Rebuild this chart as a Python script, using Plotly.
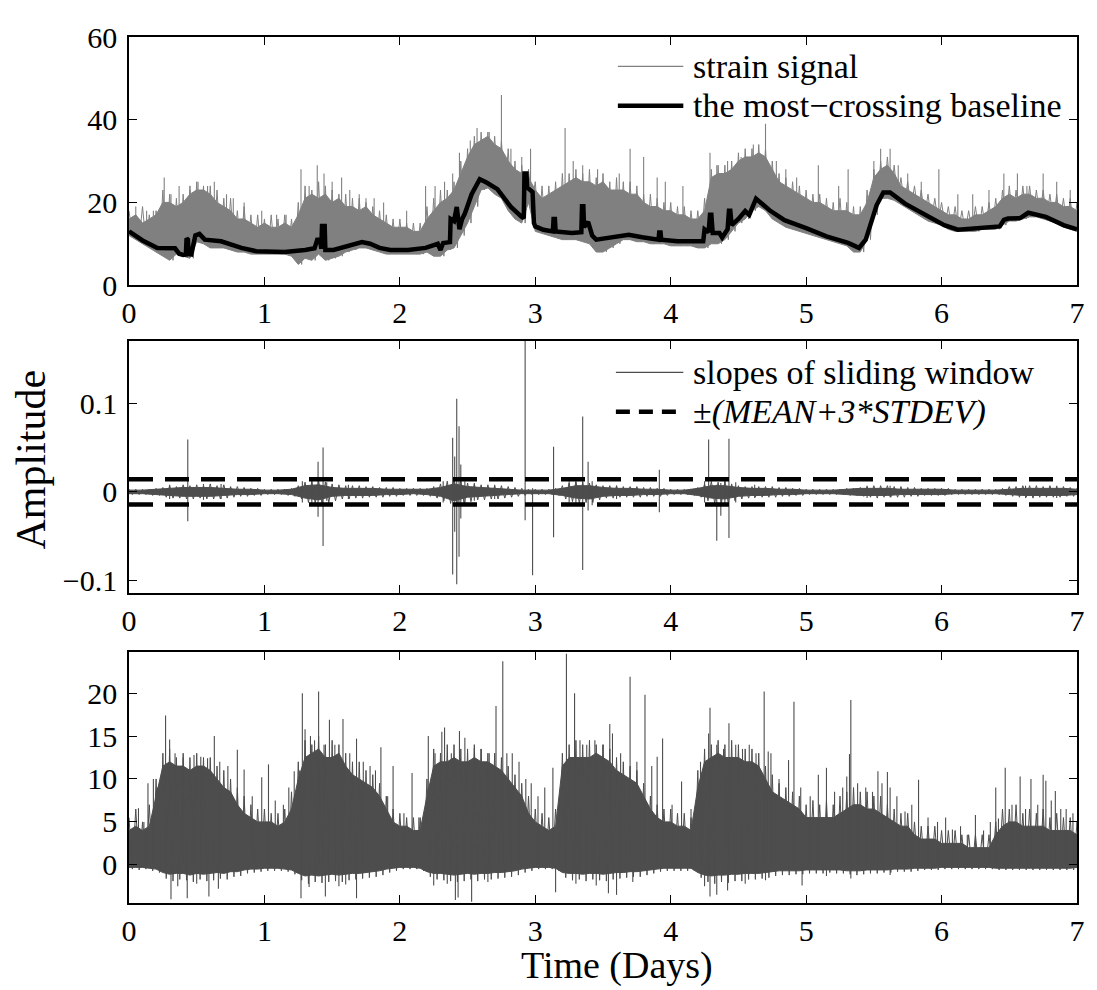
import numpy as np
import plotly.graph_objects as go
from plotly.subplots import make_subplots

# time grids (days)
t_fine = np.round(np.arange(0, 7.001, 0.05), 2)
t_coarse = np.round(np.arange(0, 7.001, 0.1), 1)

# ---- panel 1: strain signal ----
# dense part of the signal (upper / lower edge)
top_hi = [16, 17, 15, 16, 17, 20, 20, 19, 20, 22,
          23, 23, 22, 20, 19, 18, 16, 16, 15, 14,
          15, 14, 14, 15, 14, 17, 21, 22, 21, 22,
          20, 21, 19, 19, 18, 19, 17, 16, 15, 14,
          14, 14, 13, 13, 16, 18, 20, 21, 23, 27,
          31, 34, 35, 36, 34, 33, 30, 28, 27, 26,
          23, 21, 22, 23, 24, 25, 26, 25, 25, 24,
          25, 23, 23, 23, 22, 22, 20, 19, 19, 18,
          18, 17, 17, 16, 16, 18, 26, 27, 27, 28,
          30, 31, 31, 32, 31, 28, 25, 24, 23, 22,
          21, 20, 20, 19, 18, 18, 18, 17, 17, 20,
          26, 28, 29, 27, 24, 23, 22, 21, 20, 19,
          18, 17, 17, 16, 16, 17, 17, 18, 19, 21,
          22, 21, 22, 22, 21, 21, 20, 20, 19, 19,
          18]
top_lo = [12, 11, 10, 9, 8, 7, 6, 7.5, 7, 6.5,
          10.5, 10, 9, 9, 9, 8.5, 8, 8, 7.5, 7.5,
          7.5, 7.5, 7.5, 7.5, 7, 5, 6.5, 6, 7.5, 6,
          6.5, 7, 8, 8.5, 9, 9, 8.5, 8, 7.5, 7.5,
          7.5, 7.5, 7.5, 7.5, 8, 7, 7, 8.5, 9, 12,
          15, 19, 23, 23.5, 22, 21, 18, 16, 15, 20,
          13, 12.5, 12, 11.5, 11, 11, 11, 10.5, 10, 8,
          8, 9, 10, 11, 11, 10.5, 10.5, 10, 10, 10,
          9.5, 9.5, 9.5, 9.5, 9, 9, 10, 10, 11, 13,
          15, 16, 18, 19, 18, 16, 15, 14, 13.5, 13,
          12.5, 12, 11.5, 11, 10.5, 10, 9.5, 8, 8, 11,
          17, 21, 21, 20.5, 19.5, 18.5, 17.5, 16.5, 15.5, 15,
          14.5, 13.5, 13, 13, 13, 13, 13.5, 13.5, 13.5, 14.5,
          15.5, 15.5, 16, 16.5, 16.5, 16, 15.5, 15, 14, 13.5,
          13]
# per-bin maxima of the signal (hair tips above the dense part)
top_tip = [18, 16, 19, 17, 18, 23, 22, 21, 22, 24,
           25, 24, 24, 23, 21, 21, 18, 19, 17, 17,
           16, 17, 16, 17, 16, 20, 24, 23, 25, 24,
           23, 22, 22, 21, 21, 20, 19, 18, 17, 16,
           16, 15, 15, 15, 19, 21, 23, 23, 25, 30,
           33, 36, 37, 37, 36, 35, 33, 30, 29, 28,
           25, 24, 24, 25, 27, 27, 28, 27, 28, 26,
           27, 25, 26, 25, 25, 24, 22, 22, 21, 20,
           20, 19, 19, 18, 18, 21, 28, 29, 29, 30,
           32, 33, 33, 34, 33, 30, 27, 26, 25, 24,
           23, 22, 22, 21, 20, 21, 20, 19, 19, 23,
           28, 30, 31, 29, 26, 25, 24, 23, 22, 21,
           20, 19, 19, 18, 18, 19, 19, 20, 21, 23,
           24, 23, 24, 24, 23, 23, 22, 22, 21, 21,
           20]
# isolated tall spikes: time, foot, peak
top_spk_t = [0.05, 0.13, 0.18, 0.26, 0.31, 0.37, 0.45, 0.51, 0.58, 0.63,
             0.72, 0.77, 0.85, 0.98, 1.09, 1.16, 1.27, 1.33, 1.39, 1.44,
             1.50, 1.57, 1.63, 1.70, 1.75, 1.81, 1.88, 2.05, 2.19, 2.26,
             2.33, 2.39, 2.44, 2.52, 2.57, 2.66, 2.75, 2.82, 2.90, 2.965,
             3.22, 3.28, 3.35, 3.46, 3.62, 3.70, 3.80, 3.90, 3.96, 4.09,
             4.29, 4.34, 4.42, 4.52, 4.61, 4.70, 4.78, 4.85, 4.93, 5.09,
             5.24, 5.31, 5.50, 5.55, 5.62, 5.68, 5.75, 5.85, 5.98, 6.12,
             6.23, 6.35, 6.46, 6.56, 6.63, 6.75, 6.85, 6.95]
top_spk_base = [15, 14, 14, 18, 18, 17, 19, 20, 19, 18,
                17, 16, 14, 13, 12, 13, 16, 19, 18, 19,
                18, 18, 17, 16, 17, 15, 14, 12, 14, 16,
                18, 19, 23, 29, 32, 32, 31, 27, 24, 24,
                21, 22, 22, 21, 20, 20, 17, 16, 16, 15,
                20, 24, 24, 27, 29, 29, 25, 22, 20, 18,
                16, 16, 22, 25, 25, 22, 21, 19, 16, 15,
                15, 16, 18, 18, 19, 18, 18, 17]
top_spk_peak = [19, 18, 18, 26, 22, 24, 23, 25, 24, 25,
                22, 21, 20, 18, 17, 17, 28, 24, 29, 27,
                25, 26, 23, 22, 21, 21, 20, 18, 24, 24,
                25, 27, 32, 35, 38, 37, 46, 33, 31, 33,
                38, 30, 29, 28, 27, 33, 31, 26, 25, 24,
                32, 29, 30, 31, 34, 39, 30, 28, 26, 29,
                24, 28, 30, 33, 33, 29, 27, 25, 28, 22,
                22, 23, 27, 27, 24, 27, 25, 23]

# the most-crossing baseline
base_t = [0.00, 0.10, 0.21, 0.28, 0.34, 0.37, 0.40, 0.42, 0.425, 0.435, 0.44, 0.46,
          0.49, 0.52, 0.56, 0.68, 0.83, 0.94, 1.15, 1.30, 1.37, 1.39, 1.41, 1.42,
          1.425, 1.445, 1.45, 1.51, 1.62, 1.72, 1.78, 1.85, 1.93, 2.06, 2.19, 2.28,
          2.30, 2.32, 2.37, 2.375, 2.40, 2.42, 2.44, 2.46, 2.48, 2.53, 2.59, 2.64,
          2.72, 2.82, 2.90, 2.915, 2.92, 2.935, 2.94, 2.98, 2.99, 3.00, 3.06, 3.13,
          3.135, 3.145, 3.15, 3.27, 3.34, 3.345, 3.355, 3.36, 3.39, 3.42, 3.45, 3.58,
          3.69, 3.79, 3.91, 3.915, 3.925, 3.93, 4.05, 4.24, 4.25, 4.28, 4.29, 4.30,
          4.31, 4.36, 4.38, 4.42, 4.43, 4.44, 4.45, 4.50, 4.55, 4.58, 4.63, 4.73,
          4.84, 5.00, 5.15, 5.31, 5.39, 5.44, 5.52, 5.57, 5.62, 5.73, 5.88, 6.02,
          6.12, 6.28, 6.43, 6.46, 6.49, 6.58, 6.64, 6.77, 6.90, 7.00]
base_v = [13.0, 10.8, 9.0, 8.9, 8.9, 7.6, 7.3, 7.4, 11.3, 11.0, 7.5, 7.4,
          12.0, 12.4, 11.0, 10.6, 9.0, 8.2, 8.0, 8.5, 8.9, 11.0, 11.0, 8.8,
          14.3, 14.3, 8.5, 8.5, 9.4, 10.4, 10.0, 9.0, 8.5, 8.5, 9.0, 10.0,
          8.5, 10.2, 10.4, 16.0, 15.5, 18.9, 13.5, 16.0, 17.3, 22.0, 25.6, 24.8,
          23.2, 18.9, 16.5, 16.2, 27.0, 27.0, 23.6, 22.5, 15.0, 14.2, 13.4, 13.0,
          16.0, 16.0, 13.0, 12.6, 12.8, 19.1, 19.1, 14.0, 15.3, 12.0, 11.0, 11.6,
          12.2, 11.6, 11.0, 12.7, 12.7, 11.0, 10.6, 10.6, 13.5, 12.8, 17.0, 17.0,
          12.6, 12.6, 11.5, 13.5, 18.0, 18.0, 14.5, 16.0, 17.9, 17.0, 20.9, 18.1,
          15.7, 13.8, 11.8, 10.2, 9.0, 11.0, 19.3, 22.4, 22.4, 19.7, 16.9, 14.5,
          13.4, 13.8, 14.2, 15.8, 16.1, 16.2, 17.5, 16.5, 14.5, 13.5]

# ---- panel 2: slopes of sliding window ----
mid_hi = [.002, .002, .003, .004, .005, .005, .005, .004, .003, .003,
          .002, .002, .003, .007, .008, .005, .004, .004, .004, .003,
          .003, .003, .003, .005, .009, .006, .005, .004, .003, .002,
          .002, .002, .004, .007, .007, .005, .004, .004, .003, .003,
          .002, .002, .004, .007, .007, .005, .004, .004, .003, .003,
          .002, .002, .002, .003, .004, .004, .004, .003, .003, .003,
          .003, .002, .002, .002, .002, .003, .004, .004, .004, .004,
          .003]
mid_lo = [-.002, -.002, -.003, -.004, -.005, -.005, -.005, -.004, -.003, -.003,
          -.002, -.002, -.003, -.007, -.009, -.005, -.004, -.004, -.004, -.003,
          -.003, -.002, -.003, -.005, -.010, -.006, -.005, -.004, -.003, -.002,
          -.002, -.002, -.004, -.007, -.008, -.005, -.004, -.004, -.003, -.003,
          -.002, -.002, -.004, -.007, -.008, -.005, -.004, -.004, -.003, -.003,
          -.002, -.002, -.002, -.003, -.004, -.004, -.004, -.003, -.003, -.003,
          -.003, -.002, -.002, -.002, -.002, -.003, -.004, -.004, -.004, -.004,
          -.003]
mid_tip_hi = [.003, .003, .003, .003, .004, .005, .007, .006, .008, .007,
              .008, .007, .009, .007, .008, .006, .006, .005, .004, .004,
              .003, .003, .003, .003, .004, .007, .011, .012, .013, .011,
              .009, .008, .007, .007, .007, .006, .006, .005, .005, .005,
              .004, .004, .004, .004, .004, .006, .009, .012, .015, .014,
              .010, .009, .008, .008, .007, .007, .006, .005, .004, .003,
              .003, .003, .003, .004, .007, .010, .012, .011, .010, .008,
              .007, .007, .007, .006, .006, .006, .005, .005, .004, .004,
              .003, .003, .003, .003, .005, .009, .012, .011, .012, .009,
              .007, .006, .006, .006, .006, .006, .005, .005, .004, .004,
              .003, .003, .003, .003, .003, .003, .004, .004, .005, .006,
              .007, .007, .007, .006, .006, .005, .005, .004, .004, .004,
              .004, .004, .003, .003, .003, .003, .003, .003, .003, .004,
              .006, .006, .007, .007, .007, .006, .007, .006, .006, .005,
              .004]
mid_tip_lo = [-.003, -.003, -.003, -.004, -.004, -.006, -.007, -.007, -.008, -.008,
              -.007, -.008, -.008, -.008, -.007, -.006, -.005, -.005, -.004, -.004,
              -.003, -.003, -.003, -.004, -.005, -.008, -.012, -.013, -.014, -.012,
              -.010, -.008, -.008, -.007, -.007, -.006, -.006, -.006, -.005, -.005,
              -.004, -.004, -.004, -.004, -.005, -.007, -.010, -.013, -.016, -.015,
              -.011, -.009, -.009, -.008, -.008, -.007, -.006, -.005, -.004, -.003,
              -.003, -.003, -.003, -.004, -.008, -.011, -.013, -.012, -.012, -.009,
              -.007, -.007, -.006, -.006, -.006, -.006, -.005, -.005, -.005, -.004,
              -.003, -.003, -.003, -.004, -.006, -.010, -.013, -.012, -.013, -.010,
              -.008, -.007, -.006, -.006, -.006, -.006, -.005, -.005, -.004, -.004,
              -.003, -.003, -.003, -.003, -.003, -.003, -.004, -.004, -.005, -.006,
              -.007, -.006, -.006, -.006, -.006, -.005, -.005, -.004, -.004, -.004,
              -.004, -.003, -.003, -.003, -.003, -.003, -.003, -.003, -.003, -.004,
              -.005, -.006, -.006, -.007, -.006, -.006, -.006, -.006, -.005, -.005,
              -.004]
mid_spk_t = [0.434, 1.396, 1.433, 2.39, 2.405, 2.42, 2.437, 2.45, 2.925, 2.98,
             3.135, 3.35, 3.39, 3.916, 4.28, 4.34, 4.37, 4.43,
             0.30, 0.55, 0.68, 1.28, 1.35, 1.46, 1.62, 2.32, 2.48, 2.55,
             2.70, 3.25, 3.30, 3.42, 3.60, 4.25, 4.40, 4.48, 4.62, 5.45,
             5.62, 6.62, 6.85]
mid_spk_lo = [-0.033, -0.028, -0.061, -0.093, -0.045, -0.104, -0.073, -0.030, -0.032, -0.094,
              -0.051, -0.088, -0.021, -0.023, -0.006, -0.055, -0.027, -0.052,
              -0.008, -0.009, -0.008, -0.012, -0.014, -0.010, -0.008, -0.012, -0.013, -0.010,
              -0.008, -0.012, -0.013, -0.015, -0.008, -0.012, -0.015, -0.012, -0.007, -0.007,
              -0.006, -0.007, -0.007]
mid_spk_hi = [0.059, 0.034, 0.050, 0.061, 0.040, 0.105, 0.074, 0.031, 0.175, 0.004,
              0.051, 0.085, 0.034, 0.025, 0.059, 0.008, 0.010, 0.060,
              0.008, 0.009, 0.009, 0.012, 0.015, 0.011, 0.008, 0.012, 0.012, 0.010,
              0.008, 0.012, 0.011, 0.012, 0.007, 0.012, 0.013, 0.011, 0.008, 0.007,
              0.007, 0.007, 0.007]
threshold = 0.0143  # MEAN + 3*STDEV

# ---- panel 3 ----
bot_hi = [4.0, 4.5, 4.0, 4.5, 8.0, 11.5, 12.0, 11.5, 11.5, 11.0,
          11.5, 11.5, 11.0, 10.0, 9.0, 8.5, 7.0, 6.0, 5.5, 5.0,
          5.0, 5.0, 4.5, 5.0, 6.5, 10.0, 12.5, 13.0, 13.5, 12.5,
          12.5, 13.0, 11.5, 10.5, 10.0, 9.5, 9.0, 8.0, 6.5, 5.0,
          4.5, 4.5, 4.0, 4.0, 8.0, 11.5, 12.0, 12.0, 12.5, 12.0,
          12.0, 12.5, 12.0, 12.0, 11.5, 11.0, 10.0, 9.0, 8.0, 6.0,
          5.0, 4.5, 4.0, 4.5, 11.5, 12.5, 12.5, 12.5, 12.5, 13.0,
          12.5, 12.0, 11.0, 10.5, 10.0, 9.5, 8.0, 6.5, 5.5, 5.0,
          5.0, 4.5, 4.5, 4.0, 9.0, 12.0, 12.5, 13.0, 12.5, 12.5,
          12.5, 12.0, 12.0, 11.5, 10.0, 8.5, 8.0, 7.5, 7.0, 6.5,
          5.5, 5.5, 5.5, 5.5, 5.5, 6.0, 6.5, 7.0, 7.0, 6.5,
          6.5, 6.0, 5.5, 5.0, 4.5, 4.5, 3.5, 3.0, 3.0, 3.0,
          2.5, 2.5, 2.5, 2.5, 2.0, 2.0, 2.0, 2.0, 3.5, 4.5,
          5.0, 5.0, 4.5, 4.5, 4.5, 4.5, 4.0, 4.0, 4.0, 4.0,
          3.5]
bot_lo = [-0.3, -0.3, -0.3, -0.4, -0.5, -0.9, -1.1, -1.0, -1.0, -1.2,
          -1.0, -1.1, -1.0, -0.9, -1.0, -0.8, -0.8, -0.6, -0.5, -0.5,
          -0.4, -0.4, -0.4, -0.5, -0.6, -1.0, -1.3, -1.2, -1.3, -1.2,
          -1.1, -1.2, -1.1, -1.0, -1.0, -0.9, -0.8, -0.7, -0.5, -0.4,
          -0.3, -0.3, -0.3, -0.4, -0.8, -1.0, -1.0, -1.1, -1.2, -1.1,
          -1.0, -1.1, -1.0, -1.0, -0.9, -0.9, -0.8, -0.7, -0.5, -0.4,
          -0.3, -0.3, -0.3, -0.4, -0.9, -1.0, -1.0, -1.1, -1.0, -1.0,
          -1.1, -1.0, -0.9, -0.9, -0.8, -0.8, -0.7, -0.6, -0.5, -0.4,
          -0.4, -0.4, -0.4, -0.4, -0.9, -1.2, -1.3, -1.2, -1.2, -1.1,
          -1.1, -1.0, -1.0, -1.0, -0.9, -0.8, -0.7, -0.7, -0.7, -0.7,
          -0.6, -0.6, -0.6, -0.6, -0.6, -0.6, -0.7, -0.7, -0.7, -0.6,
          -0.6, -0.6, -0.6, -0.5, -0.5, -0.5, -0.4, -0.4, -0.4, -0.4,
          -0.3, -0.3, -0.3, -0.3, -0.3, -0.3, -0.3, -0.3, -0.4, -0.4,
          -0.4, -0.4, -0.4, -0.4, -0.4, -0.4, -0.4, -0.4, -0.4, -0.4,
          -0.3]
bot_tip = [5.5, 6.5, 5.0, 7.0, 10.0, 13.0, 13.5, 12.5, 13.0, 12.5,
           13.0, 12.5, 12.5, 11.5, 11.0, 10.0, 9.0, 8.0, 7.0, 6.5,
           6.5, 6.0, 6.0, 6.5, 8.5, 12.0, 14.5, 14.0, 15.0, 14.0,
           14.5, 14.0, 13.0, 12.0, 12.0, 11.0, 10.5, 9.5, 8.0, 6.5,
           6.0, 5.5, 5.5, 5.5, 10.0, 13.5, 13.0, 14.0, 14.0, 13.5,
           13.5, 14.0, 13.5, 13.0, 13.0, 12.5, 11.5, 10.5, 9.5, 8.0,
           6.5, 6.0, 5.5, 6.5, 13.0, 14.0, 14.5, 14.0, 14.5, 14.0,
           14.0, 13.5, 12.5, 12.0, 11.5, 11.0, 9.5, 8.0, 7.0, 6.5,
           6.5, 6.0, 6.0, 5.5, 11.0, 13.5, 14.0, 14.5, 14.0, 14.5,
           14.0, 13.5, 13.5, 13.0, 11.5, 10.5, 9.5, 9.0, 8.5, 8.0,
           7.0, 7.5, 7.0, 7.5, 7.0, 8.0, 8.5, 9.0, 8.5, 8.5,
           8.0, 8.0, 7.0, 6.5, 6.0, 6.0, 5.0, 4.5, 4.5, 4.5,
           4.0, 4.0, 4.0, 3.5, 3.5, 3.5, 3.5, 3.5, 5.0, 6.5,
           6.5, 7.0, 6.0, 6.5, 6.0, 6.5, 5.5, 6.0, 5.5, 5.5,
           5.0]
bot_tip_lo = [-0.5, -0.6, -0.5, -0.7, -0.9, -1.6, -1.9, -1.7, -1.8, -2.0,
              -1.7, -1.9, -1.8, -1.6, -1.7, -1.4, -1.3, -1.0, -0.9, -0.8,
              -0.7, -0.7, -0.7, -0.8, -1.1, -1.8, -2.2, -2.0, -2.1, -2.0,
              -1.9, -2.0, -1.8, -1.7, -1.6, -1.5, -1.4, -1.2, -0.9, -0.7,
              -0.5, -0.5, -0.5, -0.7, -1.4, -1.7, -1.8, -1.9, -2.0, -1.9,
              -1.7, -1.9, -1.7, -1.7, -1.6, -1.5, -1.4, -1.2, -0.9, -0.7,
              -0.5, -0.5, -0.5, -0.7, -1.5, -1.8, -1.7, -1.9, -1.7, -1.8,
              -1.9, -1.7, -1.6, -1.5, -1.4, -1.4, -1.2, -1.0, -0.8, -0.7,
              -0.7, -0.7, -0.7, -0.7, -1.5, -2.0, -2.2, -2.0, -2.1, -1.9,
              -1.9, -1.7, -1.7, -1.6, -1.5, -1.3, -1.2, -1.2, -1.1, -1.1,
              -1.0, -1.0, -1.0, -0.9, -1.0, -1.0, -1.1, -1.2, -1.1, -1.0,
              -1.0, -0.9, -0.9, -0.8, -0.8, -0.8, -0.7, -0.6, -0.6, -0.6,
              -0.5, -0.5, -0.5, -0.5, -0.5, -0.5, -0.5, -0.5, -0.6, -0.6,
              -0.6, -0.6, -0.6, -0.6, -0.6, -0.6, -0.6, -0.6, -0.6, -0.6,
              -0.5]
bot_up_t = [0.07, 0.11, 0.14, 0.18, 0.21, 0.27, 0.30, 0.34, 0.40, 0.48,
            0.53, 0.58, 0.63, 0.67, 0.73, 0.80, 0.85, 0.91, 0.98, 1.03,
            1.08, 1.14, 1.18, 1.22, 1.26, 1.28, 1.30, 1.34, 1.37, 1.40,
            1.44, 1.48, 1.52, 1.58, 1.63, 1.68, 1.73, 1.78, 1.82, 1.86,
            1.91, 1.95, 2.03, 2.09, 2.14, 2.21, 2.26, 2.31, 2.33, 2.38,
            2.44, 2.48, 2.55, 2.60, 2.66, 2.71, 2.76, 2.79, 2.83, 2.88,
            2.93, 2.97, 3.02, 3.07, 3.13, 3.18, 3.23, 3.29, 3.33, 3.38,
            3.44, 3.50, 3.55, 3.57, 3.63, 3.70, 3.75, 3.81, 3.86, 3.90,
            3.94, 4.01, 4.08, 4.15, 4.22, 4.28, 4.29, 4.34, 4.39, 4.43,
            4.48, 4.53, 4.58, 4.63, 4.69, 4.72, 4.74, 4.80, 4.87, 4.91,
            4.96, 5.03, 5.09, 5.15, 5.21, 5.27, 5.30, 5.32, 5.33, 5.38,
            5.44, 5.49, 5.53, 5.56, 5.60, 5.62, 5.67, 5.73, 5.78, 5.83,
            5.90, 5.97, 6.03, 6.08, 6.14, 6.19, 6.25, 6.31, 6.36, 6.40,
            6.42, 6.47, 6.52, 6.58, 6.62, 6.66, 6.71, 6.75, 6.77, 6.81,
            6.84, 6.88, 6.92, 6.97]
bot_up_v = [6.6, 5.0, 9.5, 10.0, 9.0, 17.4, 14.6, 13.0, 12.5, 12.8,
            12.6, 12.4, 15.0, 12.0, 11.5, 13.4, 11.1, 8.0, 10.2, 11.7,
            7.5, 7.0, 9.0, 10.9, 11.0, 20.0, 15.8, 15.0, 14.5, 20.2,
            14.0, 16.9, 14.0, 17.0, 13.0, 14.7, 12.0, 11.5, 11.0, 13.7,
            8.0, 11.5, 6.0, 10.7, 5.5, 15.0, 13.0, 15.5, 16.0, 13.0,
            15.6, 14.8, 13.6, 13.5, 13.0, 18.5, 23.7, 13.0, 13.0, 12.0,
            10.0, 9.5, 8.0, 9.0, 11.3, 7.0, 24.6, 20.0, 14.5, 14.0,
            14.5, 14.0, 16.4, 15.3, 13.0, 21.9, 12.0, 19.8, 11.5, 12.6,
            14.7, 7.0, 9.7, 6.5, 12.0, 15.3, 18.3, 14.0, 13.5, 16.5,
            14.0, 13.5, 14.0, 13.0, 20.2, 13.2, 13.0, 10.0, 12.2, 19.0,
            9.0, 8.0, 10.5, 11.3, 8.5, 9.0, 10.3, 12.9, 19.2, 9.5,
            9.0, 8.5, 10.9, 9.5, 10.8, 9.0, 8.0, 6.2, 7.0, 9.9,
            5.5, 5.0, 5.5, 4.1, 4.5, 3.5, 5.8, 4.0, 5.0, 9.0,
            5.4, 11.3, 7.0, 10.3, 6.5, 10.0, 7.0, 10.5, 9.8, 7.5,
            8.6, 6.5, 6.5, 6.0]
bot_dn_t = [0.31, 0.36, 0.43, 0.50, 0.59, 0.66, 1.27, 1.33, 1.45, 1.55,
            1.60, 1.68, 2.25, 2.35, 2.41, 2.43, 2.53, 2.65, 3.15, 3.30,
            3.45, 3.54, 3.60, 3.72, 4.25, 4.29, 4.34, 4.42, 4.55, 4.70,
            4.97, 5.15, 5.33, 5.62]
bot_dn_v = [-4.0, -2.5, -3.9, -2.2, -3.7, -2.8, -3.9, -2.6, -3.7, -2.5,
            -2.3, -3.9, -2.4, -2.2, -4.1, -3.8, -4.3, -2.0, -3.2, -2.2,
            -2.4, -3.3, -3.5, -2.0, -2.5, -3.7, -3.5, -3.0, -2.2, -1.8,
            -2.4, -1.3, -1.6, -1.2]

GRAY = '#808080'
DARK = '#4d4d4d'
FONT = 'Liberation Serif'
HALF = 0.025  # half a bin, where the per-bin minimum is drawn


def band(t, hi, lo):
    t = list(t)
    return t + t[::-1], list(hi) + list(lo)[::-1]


def zigzag(t, up, down):
    xs, ys = [], []
    for ti, a, b in zip(t, up, down):
        xs += [ti, ti + HALF]
        ys += [a, b]
    return xs, ys


def segments(ts, y0, y1):
    xs, ys = [], []
    for t, a, b in zip(ts, y0, y1):
        xs += [t, t, None]
        ys += [a, b, None]
    return xs, ys


def add_band(x, y, color, row):
    fig.add_trace(go.Scatter(x=x, y=y, fill='toself', fillcolor=color, mode='lines',
                             line=dict(color=color, width=1), hoverinfo='skip'), row=row, col=1)


def add_line(x, y, color, row, width=1.0):
    fig.add_trace(go.Scatter(x=x, y=y, mode='lines', line=dict(color=color, width=width)),
                  row=row, col=1)


fig = make_subplots(rows=3, cols=1)

# panel 1
add_band(*band(t_fine, top_hi, top_lo), GRAY, 1)
add_line(*zigzag(t_fine, top_tip, top_lo), GRAY, 1)
add_line(*segments(top_spk_t, top_spk_base, top_spk_peak), GRAY, 1, 1.1)
add_line(base_t, base_v, 'black', 1, 4.5)

# panel 2
add_band(*band(t_coarse, mid_hi, mid_lo), DARK, 2)
add_line(*zigzag(t_fine, mid_tip_hi, mid_tip_lo), DARK, 2)
add_line(*segments(mid_spk_t, mid_spk_lo, mid_spk_hi), DARK, 2, 1.1)
t_span = [float(t_coarse[0]), float(t_coarse[-1])]
for lvl in (threshold, -threshold):
    fig.add_trace(go.Scatter(x=t_span, y=[lvl, lvl], mode='lines',
                             line=dict(color='black', width=4.5, dash='24px,12px')), row=2, col=1)

# panel 3
add_band(*band(t_fine, bot_hi, bot_lo), DARK, 3)
add_line(*zigzag(t_fine, bot_tip, bot_tip_lo), DARK, 3)
add_line(*segments(bot_up_t, [0] * len(bot_up_t), bot_up_v), DARK, 3, 1.1)
add_line(*segments(bot_dn_t, [0] * len(bot_dn_t), bot_dn_v), DARK, 3, 1.1)

# page offset of the plot div (default body margin)
OFF = 8
# plot area on screen spans x 129..1085, y 20..903 px
L, R, T, B = 129, 1085, 20, 903
W, H = R - L, B - T
FIG_W, FIG_H = 1097 - OFF, 990 - OFF


def px(x):
    return (x - L) / W


def py(y):
    return (B - y) / H


ax = dict(showline=True, mirror='allticks', linecolor='black', linewidth=1.5,
          ticks='inside', ticklen=8, tickwidth=1.2, tickcolor='black',
          showgrid=False, zeroline=False, ticklabeloverflow='allow',
          tickfont=dict(family=FONT, size=30, color='black'))

doms = [(py(273), py(20)), (py(587), py(330)), (py(903), py(647))]
yranges = [[0, 60], [-0.114, 0.170], [-4.45, 24.8]]
yticks = [[0, 20, 40, 60], [-0.1, 0, 0.1], [0, 5, 10, 15, 20]]
for i in range(3):
    fig.update_xaxes(ax, range=[0, 7], tickvals=list(range(8)), domain=[0, 1],
                     ticklabelstandoff=0, row=i + 1, col=1)
    fig.update_yaxes(ax, range=yranges[i], tickvals=yticks[i], domain=list(doms[i]),
                     ticklabelstandoff=4, row=i + 1, col=1)

shapes = [
    dict(type='line', xref='paper', yref='paper', x0=px(622), x1=px(688), y0=py(50), y1=py(50),
         line=dict(color=GRAY, width=1.2)),
    dict(type='line', xref='paper', yref='paper', x0=px(622), x1=px(688), y0=py(90), y1=py(90),
         line=dict(color='black', width=4.5)),
    dict(type='line', xref='paper', yref='paper', x0=px(620), x1=px(688), y0=py(362), y1=py(362),
         line=dict(color=DARK, width=1.2)),
    dict(type='line', xref='paper', yref='paper', x0=px(620), x1=px(688), y0=py(402), y1=py(402),
         line=dict(color='black', width=4.5, dash='14px,9px')),
]

lf = dict(family=FONT, size=34, color='black')
annotations = [
    dict(text='strain signal', x=px(696), y=py(50)),
    dict(text='the most\u2212crossing baseline', x=px(696), y=py(90)),
    dict(text='slopes of sliding window', x=px(696), y=py(362)),
    dict(text='\u00b1<i>(MEAN+3*STDEV)</i>', x=px(696), y=py(402)),
]
for a in annotations:
    a.update(xref='paper', yref='paper', xanchor='left', yanchor='middle',
             showarrow=False, font=lf)
annotations += [
    dict(text='Amplitude', x=px(30), y=py(451), xref='paper', yref='paper', textangle=-90,
         showarrow=False, xanchor='center', yanchor='middle',
         font=dict(family=FONT, size=42, color='black')),
    dict(text='Time (Days)', x=px(621), y=py(990), xref='paper', yref='paper',
         showarrow=False, xanchor='center', yanchor='bottom', borderpad=0,
         font=dict(family=FONT, size=38, color='black')),
]

fig.update_layout(width=FIG_W, height=FIG_H, showlegend=False,
                  margin=dict(l=L - OFF, r=1097 - R, t=T - OFF, b=990 - B),
                  paper_bgcolor='white', plot_bgcolor='white',
                  shapes=shapes, annotations=annotations)

fig.write_html("out.html")
